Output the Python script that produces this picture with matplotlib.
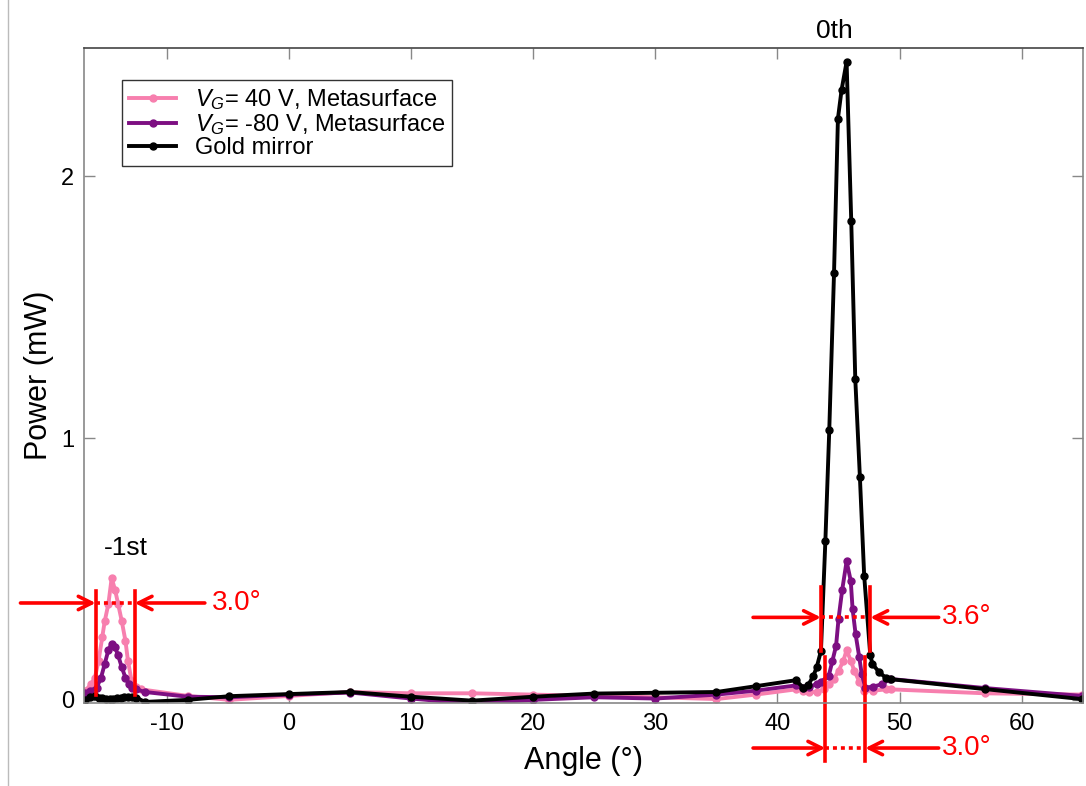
import matplotlib
matplotlib.use("Agg")
import matplotlib.pyplot as plt
from matplotlib.lines import Line2D

plt.rcParams['font.family'] = ['Liberation Sans', 'DejaVu Sans']
plt.rcParams['mathtext.fontset'] = 'custom'
plt.rcParams['mathtext.rm'] = 'Liberation Sans'
plt.rcParams['mathtext.it'] = 'Liberation Sans:italic'
plt.rcParams['axes.unicode_minus'] = False

# ---------------- data ----------------
pink_x = [-16.7, -16.2, -15.9, -15.6, -15.3, -15.1, -14.8, -14.53, -14.25, -14.0, -13.7, -13.4,
          -13.2, -12.9, -12.5, -12.1, -8.3, -4.9, 0, 5, 10, 15, 20, 25, 30, 35, 38.2, 41.5,
          42.1, 42.6, 43.2, 43.8, 44.2, 44.6, 45.0, 45.4, 45.66, 46.0, 46.3, 46.7, 47.1, 47.8,
          48.9, 49.3, 57.0, 64.9]
pink_y = [0.035, 0.06, 0.085, 0.15, 0.24, 0.30, 0.366, 0.465, 0.42, 0.366, 0.30, 0.225,
          0.15, 0.073, 0.05, 0.04, 0.015, 0.0, 0.015, 0.03, 0.025, 0.025, 0.02, 0.015, 0.01,
          0.003, 0.02, 0.04, 0.035, 0.03, 0.03, 0.04, 0.06, 0.08, 0.11, 0.15, 0.19, 0.15, 0.11,
          0.07, 0.035, 0.035, 0.04, 0.04, 0.025, 0.02]

purple_x = [-16.7, -16.3, -15.75, -15.4, -15.1, -14.8, -14.53, -14.25, -14.0, -13.7, -13.4,
            -13.1, -12.9, -12.5, -11.8, -8.3, -4.9, 0, 5, 10, 15, 20, 25, 30, 35, 38.2, 41.5,
            42.1, 42.6, 43.2, 43.6, 44.2, 44.5, 44.8, 45.0, 45.3, 45.66, 46.0, 46.15, 46.4,
            46.7, 46.9, 47.2, 47.8, 48.6, 49.2, 57.0, 64.9]
purple_y = [0.025, 0.035, 0.047, 0.085, 0.137, 0.19, 0.213, 0.2, 0.17, 0.124, 0.085,
            0.06, 0.047, 0.04, 0.03, 0.012, 0.01, 0.02, 0.028, 0.005, -0.015, 0.0, 0.01, 0.005,
            0.02, 0.035, 0.055, 0.045, 0.05, 0.06, 0.07, 0.092, 0.149, 0.207, 0.31, 0.42, 0.529,
            0.455, 0.347, 0.25, 0.162, 0.098, 0.047, 0.05, 0.06, 0.08, 0.045, 0.015]

gold_x = [-16.7, -16.3, -15.9, -15.6, -15.3, -15.0, -14.7, -14.4, -14.1, -13.8, -13.5, -13.2,
          -12.9, -12.5, -11.8, -8.3, -4.9, 0, 5, 10, 15, 20, 25, 30, 35, 38.2, 41.5, 42.1,
          42.5, 42.94, 43.21, 43.56, 43.92, 44.24, 44.63, 44.95, 45.25, 45.66, 46.04, 46.37,
          46.75, 47.1, 47.6, 47.78, 48.33, 48.87, 49.28, 57.0, 64.9]
gold_y = [0.0, 0.012, 0.015, 0.008, 0.006, 0.005, 0.005, 0.005, 0.006, 0.008, 0.01, 0.012,
          0.012, 0.008, -0.008, 0.0, 0.014, 0.022, 0.03, 0.012, -0.003, 0.012, 0.024, 0.027,
          0.03, 0.052, 0.075, 0.047, 0.055, 0.092, 0.124, 0.187, 0.605, 1.03, 1.63, 2.22, 2.33,
          2.437, 1.83, 1.226, 0.85, 0.474, 0.17, 0.137, 0.105, 0.085, 0.079, 0.041, 0.003]

labels = [r'$V_G$= 40 V, Metasurface', r'$V_G$= -80 V, Metasurface', 'Gold mirror']
colors = ['#f77fae', '#7d0f82', '#000000']

x_ticks = [-10, 0, 10, 20, 30, 40, 50, 60]
y_ticks = [0, 1, 2]

# FWHM annotations: (left edge, right edge, arrow height, bar bottom, bar top, label,
#                    left arrow tail, right arrow tail, label x)
fwhm = [
    (-15.84, -12.65, 0.37, 0.02, 0.415, '3.0°', -22.0, -6.9, -6.3),
    (43.56, 47.6, 0.315, 0.185, 0.43, '3.6°', 38.0, 53.2, 53.5),
    (43.92, 47.18, -0.184, -0.235, 0.165, '3.0°', 38.0, 53.2, 53.5),
]

# ---------------- figure ----------------
fig = plt.figure(figsize=(10.86, 7.86), dpi=100)
ax = fig.add_axes([0.0773, 0.1056, 0.9197, 0.8334])

for xs, ys, c, lab in zip([pink_x, purple_x, gold_x], [pink_y, purple_y, gold_y], colors, labels):
    ax.plot(xs, ys, '-o', color=c, lw=2.8, ms=5, label=lab)

ax.set_xlim(-16.8, 65)
ax.set_ylim(-0.012, 2.49)
ax.set_xticks(x_ticks)
ax.set_yticks(y_ticks)
ax.tick_params(direction='in', length=8, width=1, color='#888888', labelsize=17,
               top=True, right=True, pad=7)
for s in ax.spines.values():
    s.set_color('#888888')
    s.set_linewidth(1.2)
ax.spines['top'].set_color('#444444')

ax.set_xlabel('Angle (°)', fontsize=22, labelpad=8)
ax.set_ylabel('Power (mW)', fontsize=22, labelpad=5)

leg = ax.legend(loc='upper left', bbox_to_anchor=(0.038, 0.951), borderaxespad=0,
                fontsize=17, frameon=True, fancybox=False, handlelength=2.0,
                labelspacing=0.0, borderpad=0.3, handletextpad=0.8)
leg.get_frame().set_edgecolor('black')
leg.get_frame().set_linewidth(1.0)

ax.text(44.7, 2.555, '0th', fontsize=19, ha='center', va='center', clip_on=False)
ax.text(-13.4, 0.58, '-1st', fontsize=19, ha='center', va='center')

red = '#ff0000'
for (xl, xr, ya, yb, yt, lab, tail_l, tail_r, tx) in fwhm:
    for xv in (xl, xr):
        ax.add_line(Line2D([xv, xv], [yb, yt], color=red, lw=2.6, clip_on=False))
    ax.add_line(Line2D([xl, xr], [ya, ya], color=red, lw=2.6, ls=(0, (1.1, 1.1)), clip_on=False))
    ax.annotate('', xy=(xl, ya), xytext=(tail_l, ya),
                arrowprops=dict(arrowstyle='->', color=red, lw=2.6, mutation_scale=24,
                                shrinkA=0, shrinkB=0), annotation_clip=False)
    ax.annotate('', xy=(xr, ya), xytext=(tail_r, ya),
                arrowprops=dict(arrowstyle='->', color=red, lw=2.6, mutation_scale=24,
                                shrinkA=0, shrinkB=0), annotation_clip=False)
    ax.text(tx, ya, lab, color=red, fontsize=20, ha='left', va='center', clip_on=False)

fig.add_artist(Line2D([0.0075, 0.0075], [0, 1], color='#bbbbbb', lw=1, transform=fig.transFigure))

fig.savefig('out.png', dpi=100)
